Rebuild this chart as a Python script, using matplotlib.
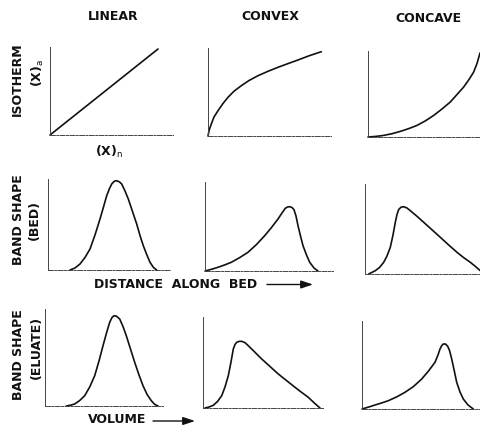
import matplotlib
matplotlib.use("Agg")
import matplotlib.pyplot as plt
from matplotlib.patches import FancyArrowPatch

FIG_W, FIG_H = 481, 431

column_titles = ["LINEAR", "CONVEX", "CONCAVE"]

# isotherms, (x, y) in pixels from each panel's origin
iso_linear_x = [0, 108]
iso_linear_y = [0, 86]
iso_convex_x = [0, 1.2, 3.3, 6, 10, 15, 20, 26, 33.3, 41, 50, 60, 70, 80, 90, 101, 113.3]
iso_convex_y = [0, 6, 12, 19, 25.3, 32.5, 38.7, 44.8, 50.3, 55.5, 60.3, 64.7, 68.7, 72.4, 76, 80.2, 84.3]
iso_concave_x = [0, 8, 15.7, 24, 32.3, 40.5, 49, 57.5, 65.7, 74, 82.3, 89, 95.7, 101, 105.7, 109, 112]
iso_concave_y = [0, 0.6, 1.6, 3.3, 5.6, 8.3, 11.6, 16.2, 21.6, 28, 35, 42.5, 50, 57.5, 65, 73.5, 84]

# band shape along the bed
bed_linear_x = [22, 27, 32, 37, 42, 47, 52, 55.5, 58.7, 61.5, 63.7, 66, 68, 70, 71.8, 73.7, 77, 80.3, 84.5, 88.7, 92, 95.3, 98.7, 102, 105.5, 108.7]
bed_linear_y = [0, 2, 6, 12.5, 21, 35, 51, 63, 74.3, 81.5, 86, 88.5, 89.3, 88.8, 87.8, 86, 79, 71, 58.5, 46, 34.5, 24.3, 15.5, 7.7, 2.5, 0]
bed_convex_x = [0, 6.5, 13, 19.5, 26.3, 34.5, 43, 51.5, 59.7, 66.5, 73, 77, 80.3, 82.5, 84.7, 87, 89, 91, 93, 95.5, 98, 101.5, 104.7, 109, 113]
bed_convex_y = [0, 1.7, 3.7, 6, 8.7, 13.3, 18.7, 26.5, 35.3, 43.5, 52, 58, 62.7, 64, 64.3, 63.5, 61.3, 55, 45.3, 35, 25.3, 16, 8.7, 3, 0]
bed_concave_x = [3.7, 10.3, 14.5, 18.7, 22, 25.3, 28, 30.3, 32, 33.7, 36, 38.7, 42, 45.3, 52, 58.7, 67, 75.3, 83.7, 92, 98.5, 105.3, 110.5, 115.3]
bed_concave_y = [0, 3.3, 6.5, 11.7, 18, 26.7, 39, 51.7, 59.5, 64.5, 66.8, 67.3, 66, 63.3, 57.7, 51.7, 44.2, 36.7, 29, 21.7, 16.5, 11.7, 7.5, 3.3]

# band shape in the eluate
elu_linear_x = [21.3, 25.5, 29.7, 34.7, 39.7, 44.7, 49.7, 54, 58, 61.5, 64.7, 67, 69, 71.5, 74.7, 78, 81.3, 85.5, 89.7, 94, 98, 102, 106.3, 109.5, 113]
elu_linear_y = [0, 0.8, 2, 5.5, 10.3, 19, 30.3, 45, 60.3, 73, 83.7, 88.5, 90.3, 89.8, 87, 79.5, 70.3, 57, 43.7, 31, 20.3, 11.7, 5.3, 1.8, 0]
elu_convex_x = [2, 6, 10.3, 14.5, 18.7, 22, 25.3, 28, 30.3, 32, 33.7, 36, 38.7, 42, 45.3, 52, 58.7, 67, 75.3, 83.7, 92, 98.5, 105.3, 111, 117]
elu_convex_y = [0, 1, 2.7, 6.5, 12.3, 21, 32.3, 46, 59, 63.5, 65.7, 66.6, 66.7, 65.3, 62.3, 55.7, 49, 41.5, 34, 27.3, 20.7, 15.7, 10.7, 5.3, 0]
elu_concave_x = [0, 6.5, 13, 19.5, 26.3, 34.5, 43, 51.5, 59.7, 66.5, 73, 76, 78, 79.8, 81.3, 83.5, 85.7, 87.7, 89.7, 92.2, 94.7, 98, 101.3, 106, 111.3]
elu_concave_y = [0, 1.9, 4, 6, 8.3, 12, 16.7, 22.5, 30, 38, 46.7, 54, 60, 63.5, 65, 65, 62.7, 58, 50, 38.5, 26.7, 17, 10, 4, 0]

# panel frames: origin (x, y) in image pixels, width, height
panel_boxes = [
    [(50, 136, 123, 88), (208, 137, 123, 88), (368, 138, 113, 86)],
    [(48, 271, 122, 91), (205, 272, 128, 89), (365, 275, 116, 90)],
    [(45, 407, 118, 97), (203, 409, 120, 91), (362, 410, 118, 88)],
]

curves = [
    [(iso_linear_x, iso_linear_y), (iso_convex_x, iso_convex_y), (iso_concave_x, iso_concave_y)],
    [(bed_linear_x, bed_linear_y), (bed_convex_x, bed_convex_y), (bed_concave_x, bed_concave_y)],
    [(elu_linear_x, elu_linear_y), (elu_convex_x, elu_convex_y), (elu_concave_x, elu_concave_y)],
]

INK = "#111111"
AXIS_INK = "#444444"
FS = 9
TXT = dict(family="DejaVu Sans", fontweight="bold", color=INK, fontsize=FS,
           ha="center", va="center")


def fx(px):
    return px / FIG_W


def fy(py):
    return 1 - py / FIG_H


fig = plt.figure(figsize=(FIG_W / 100, FIG_H / 100), dpi=100)
fig.patch.set_facecolor("white")

for r in range(3):
    for c in range(3):
        x0, y0, w, h = panel_boxes[r][c]
        ax = fig.add_axes([fx(x0), fy(y0), w / FIG_W, h / FIG_H])
        ax.set_xlim(0, w)
        ax.set_ylim(0, h)
        ax.set_facecolor("none")
        ax.set_xticks([])
        ax.set_yticks([])
        for side in ("top", "right"):
            ax.spines[side].set_visible(False)
        ax.spines["left"].set_color(AXIS_INK)
        ax.spines["left"].set_linewidth(0.7)
        ax.spines["bottom"].set_color(AXIS_INK)
        ax.spines["bottom"].set_linewidth(0.7)
        ax.spines["bottom"].set_linestyle((0, (5, 1.5, 2, 1.5)))
        xs, ys = curves[r][c]
        ax.plot(xs, ys, color=INK, lw=1.2, solid_joinstyle="round",
                solid_capstyle="round", clip_on=False)

# column headings
for title, x, y in zip(column_titles, [113, 270, 428], [16, 16, 18]):
    fig.text(fx(x), fy(y), title, **TXT)

# row labels
fig.text(fx(17.5), fy(79), "ISOTHERM", rotation=90, **TXT)
fig.text(fx(38), fy(73), r"(X)$_\mathrm{a}$", rotation=90, **TXT)
fig.text(fx(109), fy(152), r"(X)$_\mathrm{n}$", **TXT)

fig.text(fx(19), fy(220), "BAND SHAPE", rotation=90, **TXT)
fig.text(fx(34), fy(220), "(BED)", rotation=90, **TXT)
fig.text(fx(19), fy(355), "BAND SHAPE", rotation=90, **TXT)
fig.text(fx(36), fy(347), "(ELUATE)", rotation=90, **TXT)

# axis captions with arrows
fig.text(fx(176), fy(284), "DISTANCE  ALONG  BED", **TXT)
fig.text(fx(117), fy(420), "VOLUME", **TXT)
arrow = dict(arrowstyle="-|>,head_length=0.9,head_width=0.3", color=INK, lw=1.0,
             mutation_scale=8, shrinkA=0, shrinkB=0, transform=fig.transFigure)
fig.add_artist(FancyArrowPatch((fx(267), fy(285.5)), (fx(313), fy(285.5)), **arrow))
fig.add_artist(FancyArrowPatch((fx(153), fy(422)), (fx(195), fy(422)), **arrow))

fig.savefig("out.png", dpi=100, facecolor="white")
